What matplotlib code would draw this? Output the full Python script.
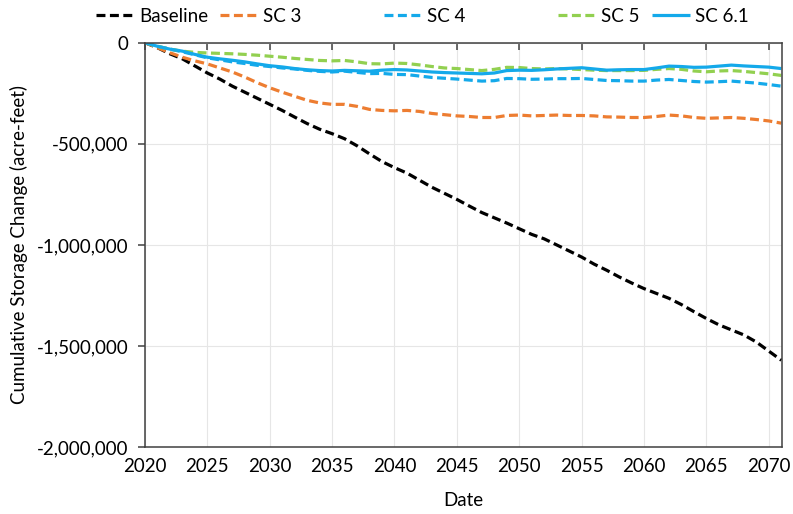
import matplotlib
matplotlib.use("Agg")
import matplotlib.pyplot as plt
from matplotlib.ticker import FuncFormatter, MultipleLocator

years = list(range(2020, 2072))

baseline = [
    0, -25e3, -55e3, -80e3, -115e3, -150e3, -180e3, -215e3, -245e3, -275e3,
    -305e3, -335e3, -368e3, -400e3, -428e3, -450e3, -475e3, -510e3, -550e3, -588e3,
    -618e3, -645e3, -680e3, -715e3, -745e3, -775e3, -808e3, -840e3, -866e3, -892e3,
    -920e3, -948e3, -970e3, -1000e3, -1030e3, -1060e3, -1095e3, -1125e3, -1158e3, -1188e3,
    -1216e3, -1240e3, -1264e3, -1295e3, -1330e3, -1364e3, -1395e3, -1420e3, -1445e3, -1480e3,
    -1525e3, -1570e3,
]
sc3 = [
    0, -25e3, -50e3, -72e3, -90e3, -105e3, -125e3, -145e3, -170e3, -198e3,
    -223e3, -245e3, -265e3, -285e3, -298e3, -305e3, -305e3, -315e3, -330e3, -335e3,
    -337e3, -335e3, -340e3, -350e3, -356e3, -362e3, -365e3, -370e3, -370e3, -360e3,
    -358e3, -362e3, -360e3, -358e3, -360e3, -360e3, -362e3, -367e3, -368e3, -370e3,
    -370e3, -365e3, -358e3, -362e3, -370e3, -374e3, -372e3, -370e3, -374e3, -380e3,
    -387e3, -398e3,
]
sc4 = [
    0, -18e3, -32e3, -45e3, -60e3, -75e3, -85e3, -95e3, -103e3, -112e3,
    -118e3, -125e3, -130e3, -137e3, -142e3, -145e3, -141e3, -147e3, -153e3, -152e3,
    -157e3, -158e3, -165e3, -172e3, -176e3, -180e3, -185e3, -190e3, -188e3, -177e3,
    -178e3, -181e3, -180e3, -178e3, -178e3, -177e3, -182e3, -187e3, -188e3, -190e3,
    -190e3, -185e3, -182e3, -187e3, -192e3, -195e3, -193e3, -190e3, -195e3, -200e3,
    -207e3, -215e3,
]
sc5 = [
    0, -18e3, -32e3, -42e3, -48e3, -51e3, -53e3, -55e3, -58e3, -62e3,
    -67e3, -72e3, -78e3, -83e3, -88e3, -90e3, -88e3, -95e3, -104e3, -105e3,
    -101e3, -103e3, -110e3, -118e3, -125e3, -128e3, -133e3, -138e3, -132e3, -122e3,
    -123e3, -128e3, -130e3, -128e3, -130e3, -133e3, -136e3, -138e3, -138e3, -138e3,
    -137e3, -132e3, -128e3, -132e3, -140e3, -144e3, -140e3, -138e3, -142e3, -148e3,
    -154e3, -162e3,
]
sc61 = [
    0, -18e3, -32e3, -42e3, -58e3, -72e3, -80e3, -87e3, -95e3, -105e3,
    -114e3, -120e3, -128e3, -134e3, -138e3, -140e3, -137e3, -139e3, -141e3, -136e3,
    -133e3, -135e3, -140e3, -145e3, -148e3, -150e3, -152e3, -154e3, -150e3, -138e3,
    -136e3, -137e3, -134e3, -130e3, -127e3, -124e3, -130e3, -136e3, -134e3, -133e3,
    -133e3, -125e3, -116e3, -118e3, -122e3, -121e3, -116e3, -111e3, -115e3, -118e3,
    -121e3, -128e3,
]

series_names = ["Baseline", "SC 3", "SC 4", "SC 5", "SC 6.1"]
series_values = [baseline, sc3, sc4, sc5, sc61]
series_colors = ["#000000", "#ED7D31", "#14A9EA", "#92D050", "#14A9EA"]
series_dashed = [True, True, True, True, False]

plt.rcParams["font.family"] = ["Lato", "DejaVu Sans"]

fig = plt.figure(figsize=(7.93, 5.14), dpi=100)
ax = fig.add_axes([0.1828, 0.130, 0.8032, 0.787])

handles = []
# draw back to front like the original (baseline first, SC 6.1 on top)
for name, vals, color, dashed in zip(series_names, series_values, series_colors, series_dashed):
    line, = ax.plot(years, vals, color=color, lw=2.3, label=name, solid_capstyle="butt")
    if dashed:
        line.set_dashes((2.8, 1.4))
    handles.append(line)

ax.set_xlim(2020, 2071.05)
ax.set_ylim(-2_000_000, 0)
ax.xaxis.set_major_locator(MultipleLocator(5))
ax.yaxis.set_major_locator(MultipleLocator(500_000))
ax.yaxis.set_major_formatter(FuncFormatter(lambda v, _: f"{v:,.0f}" if v != 0 else "0"))

ax.grid(True, color="#E6E6E6", lw=0.8)
ax.set_axisbelow(True)
for side in ["left", "right", "top", "bottom"]:
    ax.spines[side].set_color("#404040")
    ax.spines[side].set_linewidth(1.1)

ax.tick_params(axis="x", top=True, bottom=False, labeltop=False, labelbottom=True,
               direction="in", length=5, width=1.1, color="#404040", pad=8,
               labelsize=13.5, labelcolor="#000000")
ax.tick_params(axis="y", left=True, direction="out", length=5, width=1.1,
               color="#404040", pad=7, labelsize=13.5)

ax.set_xlabel("Date", fontsize=13.5, labelpad=12)
ax.set_ylabel("Cumulative Storage Change (acre-feet)", fontsize=13.5, labelpad=6)

# legend entries are spread unevenly across the top, as in the source figure
legend_x = [96, 220, 384, 558, 652]
for h, x in zip(handles, legend_x):
    fig.legend(handles=[h], loc="center left", bbox_to_anchor=(x / 793, 1 - 16 / 514),
               frameon=False, fontsize=13.5, handlelength=2.0, handletextpad=0.3,
               borderaxespad=0, borderpad=0)

fig.savefig("out.png", dpi=100)
